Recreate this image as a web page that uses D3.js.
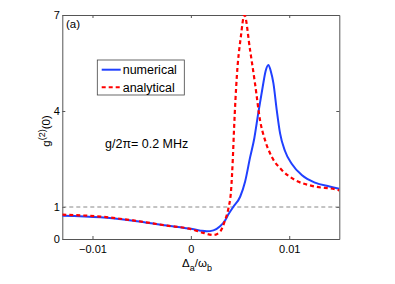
<!DOCTYPE html>
<html>
<head>
<meta charset="utf-8">
<script src="https://cdn.jsdelivr.net/npm/d3@7"></script>
<style>
  body { margin: 0; background: #fff; }
  text { font-family: "Liberation Sans", Arial, sans-serif; fill: #000; }
</style>
</head>
<body>
<div id="chart-area"></div>
<script>
// detuning in units of 1e-3
const numerical_x = [-13.07, -9.2, -5.86, -2.44, 0, 1.0, 1.62, 2.29, 2.97, 3.48, 3.82, 4.32, 5.01, 5.51, 6.02, 6.45, 6.86, 7.3, 7.6, 7.88, 8.12, 8.39, 8.73, 9.07, 9.57, 10.25, 11.27, 12.62, 14.1, 15.09];
const numerical_y = [0.73, 0.68, 0.57, 0.42, 0.32, 0.26, 0.24, 0.27, 0.40, 0.58, 0.77, 1.01, 1.32, 1.79, 2.55, 3.15, 3.95, 4.75, 5.25, 5.44, 5.25, 4.87, 4.03, 3.3, 2.75, 2.35, 2.0, 1.76, 1.64, 1.57];

const analytical_x = [-13.07, -9.2, -5.86, -2.44, 0, 1.28, 2.29, 2.97, 3.48, 3.82, 4.09, 4.26, 4.4, 4.67, 5.08, 5.44, 6.02, 6.53, 7.04, 7.54, 8.22, 9.24, 10.6, 12.3, 14.98, 15.09];
const analytical_y = [0.76, 0.70, 0.58, 0.42, 0.31, 0.19, 0.125, 0.23, 0.59, 0.96, 1.53, 2.47, 3.51, 5.07, 6.32, 7.0, 5.9, 4.84, 3.7, 3.09, 2.57, 2.16, 1.84, 1.66, 1.53, 1.52];

const x_ticks = [-0.01, 0, 0.01];
const x_tick_labels = ["\u22120.01", "0", "0.01"];
const y_ticks = [0, 1, 4, 7];
const legend_labels = ["numerical", "analytical"];

const margins = { top: 15, right: 55.7, bottom: 45, left: 62.3 };
const canvas_dims = { width: 395, height: 284 };
const content_dims = {
  width: canvas_dims.width - margins.left - margins.right,
  height: canvas_dims.height - margins.top - margins.bottom
};

const svg = d3
  .select("#chart-area")
  .append("svg")
  .attr("width", canvas_dims.width)
  .attr("height", canvas_dims.height);

const group = svg
  .append("g")
  .attr("transform", `translate(${margins.left},${margins.top})`);

const scales = {
  x: d3.scaleLinear().domain([-0.01307, 0.01509]).range([0, content_dims.width]),
  y: d3.scaleLinear().domain([0, 7]).range([content_dims.height, 0])
};

group.append("clipPath").attr("id", "clip")
  .append("rect")
  .attr("width", content_dims.width)
  .attr("height", content_dims.height);

// axes, matlab style with inward ticks
const axisColor = "#555";
const styleAxis = g => {
  g.select(".domain").attr("stroke", axisColor);
  g.selectAll(".tick line").attr("stroke", axisColor);
  g.selectAll("text").attr("font-size", "11px").attr("font-family", "Liberation Sans, Arial, sans-serif").attr("fill", "#000");
};

group.append("g")
  .attr("transform", `translate(0,${content_dims.height})`)
  .call(d3.axisBottom(scales.x).tickValues(x_ticks).tickFormat((d, i) => x_tick_labels[i]).tickSizeInner(-3).tickSizeOuter(0).tickPadding(6))
  .call(styleAxis);

group.append("g")
  .call(d3.axisTop(scales.x).tickValues(x_ticks).tickFormat("").tickSizeInner(-3).tickSizeOuter(0))
  .call(styleAxis);

group.append("g")
  .call(d3.axisLeft(scales.y).tickValues(y_ticks).tickFormat(d3.format("d")).tickSizeInner(-3).tickSizeOuter(0).tickPadding(2.5))
  .call(styleAxis);

group.append("g")
  .attr("transform", `translate(${content_dims.width},0)`)
  .call(d3.axisRight(scales.y).tickValues(y_ticks).tickFormat("").tickSizeInner(-3).tickSizeOuter(0))
  .call(styleAxis);

// reference line at g2 = 1
group.append("line")
  .attr("x1", 0)
  .attr("x2", content_dims.width)
  .attr("y1", scales.y(1))
  .attr("y2", scales.y(1))
  .attr("stroke", "#888")
  .attr("stroke-width", 1)
  .attr("stroke-dasharray", "4,3");

const line = d3.line()
  .x(d => scales.x(d[0] * 1e-3))
  .y(d => scales.y(d[1]))
  .curve(d3.curveMonotoneX);

const plots = group.append("g").attr("clip-path", "url(#clip)");

plots.append("path")
  .datum(numerical_x.map((x, i) => [x, numerical_y[i]]))
  .attr("d", line)
  .attr("fill", "none")
  .attr("stroke", "#2040ff")
  .attr("stroke-width", 2);

plots.append("path")
  .datum(analytical_x.map((x, i) => [x, analytical_y[i]]))
  .attr("d", line)
  .attr("fill", "none")
  .attr("stroke", "#ff0000")
  .attr("stroke-width", 2.2)
  .attr("stroke-dasharray", "4,3");

// panel label and annotation
svg.append("text").attr("x", 66).attr("y", 27.5).attr("font-size", "11.5px").text("(a)");
svg.append("text").attr("x", 105).attr("y", 147.5).attr("font-size", "12.5px").text("g/2\u03c0= 0.2 MHz");

// legend
const legend = svg.append("g");
legend.append("rect")
  .attr("x", 97.3).attr("y", 60).attr("width", 87).attr("height", 35)
  .attr("fill", "#fff").attr("stroke", "#444").attr("stroke-width", 0.8);
const legendStyles = [
  { color: "#2040ff", dash: null, y: 69.7 },
  { color: "#ff0000", dash: "4,3", y: 87.3 }
];
legend_labels.forEach((label, i) => {
  const s = legendStyles[i];
  legend.append("line")
    .attr("x1", 101.7).attr("x2", 120.7).attr("y1", s.y).attr("y2", s.y)
    .attr("stroke", s.color).attr("stroke-width", 2)
    .attr("stroke-dasharray", s.dash);
  legend.append("text")
    .attr("x", 122.7).attr("y", s.y + 4.3)
    .attr("font-size", "12.5px")
    .text(label);
});

// axis labels
const xl = svg.append("text")
  .attr("x", 197).attr("y", 267)
  .attr("text-anchor", "middle")
  .attr("font-size", "11.5px");
xl.append("tspan").text("\u0394");
xl.append("tspan").attr("dy", 4).attr("font-size", "9px").text("a");
xl.append("tspan").attr("dy", -4).text("/\u03c9");
xl.append("tspan").attr("dy", 4).attr("font-size", "9px").text("b");

const yl = svg.append("text")
  .attr("transform", "translate(50,131) rotate(-90)")
  .attr("text-anchor", "middle")
  .attr("font-size", "11.5px");
yl.append("tspan").text("g");
yl.append("tspan").attr("dy", -5).attr("font-size", "9px").text("(2)");
yl.append("tspan").attr("dy", 5).text("(0)");
</script>
</body>
</html>
